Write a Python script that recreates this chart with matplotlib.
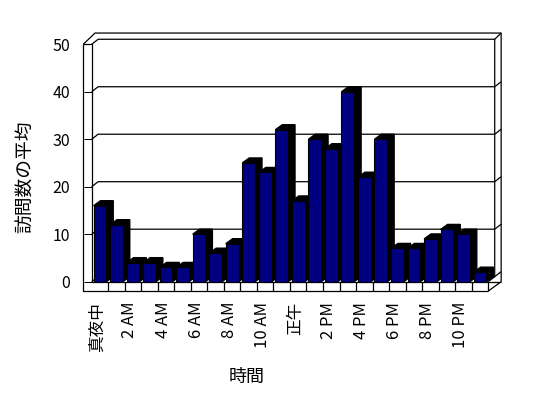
import numpy as np
import matplotlib
matplotlib.use('Agg')
import matplotlib.pyplot as plt
import matplotlib.transforms as mtransforms

plt.rcParams['font.family'] = ['Noto Sans CJK JP', 'DejaVu Sans']

# average visits per hour of the day
hours = list(range(24))
visits = [16, 12, 4, 4, 3, 3, 10, 6, 8, 25, 23, 32,
          17, 30, 28, 40, 22, 30, 7, 7, 9, 11, 10, 2]
tick_labels = ['真夜中', '2 AM', '4 AM', '6 AM', '8 AM', '10 AM',
               '正午', '2 PM', '4 PM', '6 PM', '8 PM', '10 PM']
y_ticks = [0, 10, 20, 30, 40, 50]

bar_color = '#000080'
# 3d offsets in data units
dx, dy = 0.39, 1.06        # depth of back wall
bdx, bdy = 0.42, 1.06      # depth of bars
wall_x = -0.51             # outer edge of left wall
floor_y = -1.97            # outer edge of floor
top_y = 52.37
right_x = 24.78

fig = plt.figure(figsize=(5.48, 3.98), dpi=100)
ax = fig.add_axes([0.1673, 0.2922, 0.7237, 0.5965])
ax.set_xlim(0, 24)
ax.set_ylim(0, 50)
ax.patch.set_visible(False)
for s in ax.spines.values():
    s.set_visible(False)

def line(xs, ys):
    ax.plot(xs, ys, color='black', lw=0.9, clip_on=False, zorder=1,
            solid_capstyle='butt')

# walls
line([wall_x, wall_x, 24], [50, floor_y, floor_y])
line([0, 0, 24, right_x], [50, 0, 0, 0])
line([wall_x, 0], [50, 50])
line([wall_x, 0.2, right_x, right_x, 24], [50, top_y, top_y, 0, floor_y])
line([0, dx, 24 + dx, 24 + dx, 24], [50, 50 + dy, 50 + dy, dy, 0])
line([24 + dx, right_x], [50 + dy, top_y])
for v in y_ticks[:-1]:
    line([0, dx, 24 + dx, right_x], [v, v + dy, v + dy, v + dy + 1.06])
# floor cells
for i in range(1, 25):
    line([i, i], [0, floor_y])

# bars
x = np.array(hours) + 0.5
w = 0.77
bars = ax.bar(x, visits, width=w, color=bar_color, edgecolor='black',
              linewidth=0.8)
for i, (b, v) in enumerate(zip(bars, visits)):
    l, r = x[i] - w / 2, x[i] + w / 2
    ax.fill([r, r + bdx, r + bdx, r], [0, bdy, v + bdy, v],
            color='black', zorder=2 + 2 * i, clip_on=False)
    ax.fill([l, l + bdx, r + bdx, r], [v, v + bdy, v + bdy, v],
            color='black', zorder=2 + 2 * i, clip_on=False)
    b.set_zorder(3 + 2 * i)

ax.set_yticks(y_ticks)
ax.tick_params(axis='y', direction='out', length=6, width=0.7,
               pad=9.5, labelsize=11.5)
ax.set_xticks(x[::2])
ax.set_xticklabels(tick_labels, rotation=90)
ax.tick_params(axis='x', length=0, pad=14.5, labelsize=12)
shift = mtransforms.ScaledTranslation(-3 / 100, 0, fig.dpi_scale_trans)
for t in ax.get_xticklabels():
    t.set_transform(t.get_transform() + shift)

fig.text(25.5 / 548, 1 - 177 / 398, '訪問数の平均', rotation=90,
         ha='center', va='center', fontsize=13.5)
fig.text(246.7 / 548, 1 - 376.7 / 398, '時間', ha='center', va='center',
         fontsize=13)

fig.savefig('out.png', dpi=100)
